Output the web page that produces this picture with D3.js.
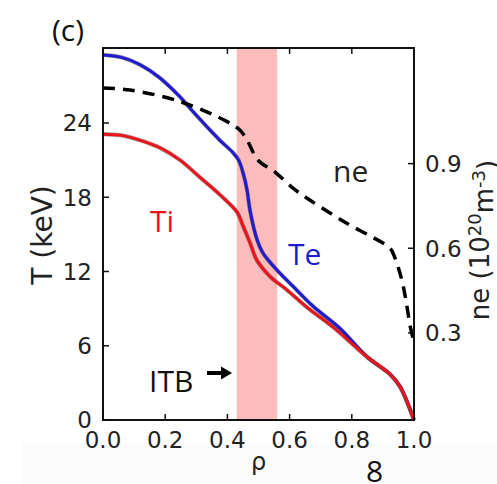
<!DOCTYPE html>
<html>
<head>
<meta charset="utf-8">
<script src="https://cdn.jsdelivr.net/npm/d3@7"></script>
<style>
  body { margin: 0; background: #fff; }
</style>
</head>
<body>
<div id="chart"></div>
<script>
// profiles
const rho_te = [0, 0.06, 0.12, 0.18, 0.248, 0.29, 0.334, 0.376, 0.418, 0.436, 0.45, 0.463, 0.473, 0.495, 0.514, 0.56, 0.611, 0.675, 0.762, 0.849, 0.923, 0.955, 1.0];
const te     = [29.5, 29.3, 28.7, 27.7, 26.1, 24.9, 23.7, 22.6, 21.6, 21.0, 20.0, 18.6, 16.9, 14.6, 13.5, 12.1, 10.8, 9.2, 7.4, 5.1, 3.7, 2.7, 0];

const rho_ti = [0, 0.06, 0.12, 0.183, 0.248, 0.312, 0.376, 0.431, 0.45, 0.473, 0.495, 0.537, 0.592, 0.656, 0.74, 0.849, 0.923, 0.955, 1.0];
const ti     = [23.1, 23.0, 22.6, 22.0, 21.0, 19.6, 18.2, 16.8, 15.7, 14.3, 12.9, 11.6, 10.5, 9.1, 7.5, 5.1, 3.7, 2.7, 0];

const rho_ne = [0, 0.087, 0.248, 0.399, 0.44, 0.463, 0.498, 0.553, 0.611, 0.666, 0.74, 0.794, 0.865, 0.923, 0.939, 0.961, 0.974, 0.987, 0.997];
const ne     = [1.168, 1.161, 1.12, 1.049, 1.019, 0.984, 0.913, 0.87, 0.813, 0.77, 0.718, 0.682, 0.64, 0.60, 0.565, 0.487, 0.416, 0.328, 0.28];

const itb = [0.43, 0.56];

const xTicks = [0, 0.2, 0.4, 0.6, 0.8, 1.0];
const tTicks = [0, 6, 12, 18, 24];
const nTicks = [0.3, 0.6, 0.9];

const width = 497;
const height = 484;
const L = 103, R = 414, T = 48, B = 420;

const svg = d3.select('#chart')
              .append("svg")
              .attr('width', width)
              .attr('height', height);

// very faint grey strip at the bottom of the screenshot
svg.append("rect")
   .attr("x", 22).attr("y", 443)
   .attr("width", width - 22).attr("height", height - 443)
   .attr("fill", "#fbfbfb");

let xScale = d3.scaleLinear().domain([0, 1]).range([L, R]);
let yScale = d3.scaleLinear().domain([0, 30.06]).range([B, T]);
let y2Scale = d3.scaleLinear().domain([-0.009, 1.31]).range([B, T]);

// ITB band
svg.append("rect")
   .attr("x", xScale(itb[0]))
   .attr("y", T)
   .attr("width", xScale(itb[1]) - xScale(itb[0]))
   .attr("height", B - T)
   .attr("fill", "#fcbcbc");

function zip(a, b) { return a.map((d, i) => [d, b[i]]); }

let tLine = d3.line()
    .x(d => xScale(d[0]))
    .y(d => yScale(d[1]))
    .curve(d3.curveCatmullRom.alpha(0.5));

let nLine = d3.line()
    .x(d => xScale(d[0]))
    .y(d => y2Scale(d[1]))
    .curve(d3.curveCatmullRom.alpha(0.5));

// Te first so Ti sits on top where they merge
[[zip(rho_te, te), "#1c1cd0"], [zip(rho_ti, ti), "#e8161c"]].forEach(function(s){
  svg.append("path")
     .attr("d", tLine(s[0]))
     .attr("fill", "none")
     .attr("stroke", "#3a1010")
     .attr("stroke-opacity", 0.4)
     .attr("stroke-width", 4.2);
  svg.append("path")
     .attr("d", tLine(s[0]))
     .attr("fill", "none")
     .attr("stroke", s[1])
     .attr("stroke-width", 3);
});

svg.append("path")
   .attr("d", nLine(zip(rho_ne, ne)))
   .attr("fill", "none")
   .attr("stroke", "#000")
   .attr("stroke-width", 3.5)
   .attr("stroke-dasharray", "12,8");

// frame
svg.append("rect")
   .attr("x", L).attr("y", T)
   .attr("width", R - L).attr("height", B - T)
   .attr("fill", "none")
   .attr("stroke", "#111")
   .attr("stroke-width", 2);

// inward ticks
const tickLen = 6;
const tickFont = "'DejaVu Sans', sans-serif";
const ticks = svg.append("g").attr("stroke", "#111").attr("stroke-width", 1.5);

xTicks.forEach(function(v){
  ticks.append("line")
       .attr("x1", xScale(v)).attr("x2", xScale(v))
       .attr("y1", B).attr("y2", B - tickLen);
  ticks.append("line")
       .attr("x1", xScale(v)).attr("x2", xScale(v))
       .attr("y1", T).attr("y2", T + tickLen);
  svg.append("text")
     .attr("x", xScale(v)).attr("y", 448)
     .attr("text-anchor", "middle")
     .attr("font-family", tickFont)
     .attr("font-size", 23)
     .attr("fill", "#222")
     .text(v.toFixed(1));
});

tTicks.forEach(function(v){
  ticks.append("line")
       .attr("x1", L).attr("x2", L + tickLen)
       .attr("y1", yScale(v)).attr("y2", yScale(v));
  svg.append("text")
     .attr("x", 92).attr("y", yScale(v))
     .attr("dy", "0.36em")
     .attr("text-anchor", "end")
     .attr("font-family", tickFont)
     .attr("font-size", 23)
     .attr("fill", "#222")
     .text(v);
});

nTicks.forEach(function(v){
  ticks.append("line")
       .attr("x1", R).attr("x2", R - tickLen)
       .attr("y1", y2Scale(v)).attr("y2", y2Scale(v));
  svg.append("text")
     .attr("x", 425).attr("y", y2Scale(v))
     .attr("dy", "0.36em")
     .attr("text-anchor", "start")
     .attr("font-family", tickFont)
     .attr("font-size", 23)
     .attr("fill", "#222")
     .text(v.toFixed(1));
});

// axis labels
svg.append("text")
   .attr("transform", "translate(52,235) rotate(-90)")
   .attr("text-anchor", "middle")
   .attr("font-family", tickFont)
   .attr("font-size", 28)
   .attr("fill", "#222")
   .text("T (keV)");

let neLab = svg.append("text")
   .attr("transform", "translate(489,240) rotate(-90)")
   .attr("text-anchor", "middle")
   .attr("font-family", tickFont)
   .attr("font-size", 26)
   .attr("fill", "#222");
neLab.append("tspan").text("ne (10");
neLab.append("tspan").attr("dy", "-0.45em").attr("font-size", 18).text("20");
neLab.append("tspan").attr("dy", "0.45em").text("m");
neLab.append("tspan").attr("dy", "-0.45em").attr("font-size", 18).text("-3");
neLab.append("tspan").attr("dy", "0.45em").text(")");

svg.append("text")
   .attr("x", (L + R) / 2).attr("y", 470)
   .attr("text-anchor", "middle")
   .attr("font-family", tickFont)
   .attr("font-size", 24)
   .attr("fill", "#222")
   .text("ρ");

// annotations
const annFont = "'Open Sans', sans-serif";
function ann(x, y, s, col, size) {
  svg.append("text")
     .attr("x", x).attr("y", y)
     .attr("font-family", annFont)
     .attr("font-size", size || 30)
     .attr("fill", col)
     .text(s);
}
ann(52, 41, "(c)", "#111", 30);
ann(150, 232, "Ti", "#e8161c");
ann(288, 265, "Te", "#1c1cd0");
ann(333, 182, "ne", "#222");
ann(149, 392, "ITB", "#111");
ann(366, 482, "8", "#111");

// ITB arrow
svg.append("line")
   .attr("x1", 207).attr("x2", 223)
   .attr("y1", 373).attr("y2", 373)
   .attr("stroke", "#000")
   .attr("stroke-width", 4);
svg.append("path")
   .attr("d", d3.line()([[221, 366.5], [232, 373], [221, 379.5]]))
   .attr("fill", "#000");
</script>
</body>
</html>
